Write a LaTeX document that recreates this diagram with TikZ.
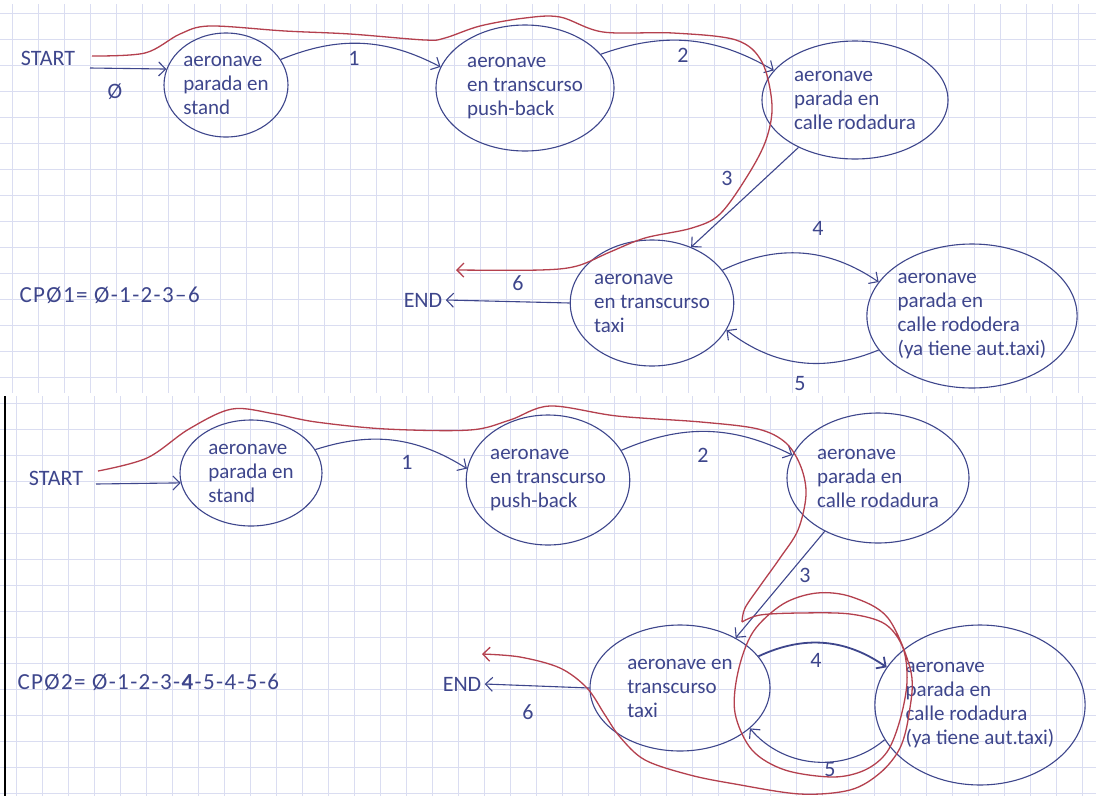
\documentclass[tikz,border=0pt]{standalone}
\usepackage{fontspec}
\setmainfont{Carlito}
\usetikzlibrary{positioning,shapes.geometric,arrows.meta}

\definecolor{ink}{RGB}{62,70,140}
\definecolor{redink}{RGB}{180,64,78}
\definecolor{gridblue}{RGB}{218,221,241}

\begin{document}
\begin{tikzpicture}[x=1pt,y=-1pt,
		state/.style={ellipse,draw=ink,line width=1.1pt,text=ink,align=left,inner sep=0pt,font=\fontsize{21}{24}\selectfont},
		trans/.style={draw=ink,line width=1.1pt,-{Straight Barb[length=7pt,width=14pt]}},
		numtag/.style={text=ink,font=\fontsize{22}{24}\selectfont},
		cptext/.style={text=ink,anchor=west,font=\fontsize{23}{24}\selectfont\addfontfeature{LetterSpace=6}},
		redroute/.style={draw=redink,line width=1.3pt},
		gridline/.style={draw=gridblue,line width=0.9pt}]

		% squared paper, two sheets
		\fill[white] (0,0) rectangle (1096,796);
		\useasboundingbox (0,0) rectangle (1096,796);
		\foreach \x in {12,38,...,1096} \draw[gridline] (\x,4) -- (\x,393);
		\foreach \y in {13,39,...,393} \draw[gridline] (0,\y) -- (1096,\y);
		\foreach \x in {16,42,...,1096} \draw[gridline] (\x,396) -- (\x,796);
		\foreach \y in {403,429,...,796} \draw[gridline] (0,\y) -- (1096,\y);
		\draw[black,line width=1.5pt] (5,396) -- (5,796);

		% CPO1
		\node[numtag]												(start1)	at (48,58)		{START};
		\node[state,minimum width=124pt,minimum height=104pt]		(s1)		at (226,85)		{aeronave\\parada en\\stand};
		\node[state,minimum width=178pt,minimum height=126pt]		(p1)		at (525,88)		{aeronave\\en transcurso\\push-back};
		\node[state,minimum width=186pt,minimum height=118pt]		(c1)		at (855,100)	{aeronave\\parada en\\calle rodadura};
		\node[state,minimum width=156pt,minimum height=126pt]		(t1)		at (652,303)	{aeronave\\en transcurso\\taxi};
		\node[state,minimum width=206pt,minimum height=144pt]		(a1)		at (972,316)	{aeronave\\parada en\\calle rododera\\(ya tiene aut.taxi)};
		\node[numtag]												(e1)		at (423,300)	{END};
		\node[cptext]												(cp1)		at (16,295)		{CPØ1= Ø-1-2-3–6};

		\coordinate (in1) at (90,68);
		\draw[trans] (in1) -- (s1.165);
		\draw[trans] (s1.25) to[bend left=25] (p1.166);
		\draw[trans] (p1.24) to[bend left=25] (c1.160);
		\draw[trans] (c1.220) -- (t1.55);
		\draw[trans] (t1.25) to[bend left=30] (a1.160);
		\draw[trans] (a1.200) to[bend left=30] (t1.340);
		\draw[trans] (t1.west) -- (e1.east);

		\node[numtag]	(n0)	at (115,92)		{Ø};
		\node[numtag]	(n1)	at (354,58)		{1};
		\node[numtag]	(n2)	at (683,55)		{2};
		\node[numtag]	(n3)	at (727,178)	{3};
		\node[numtag]	(n4)	at (818,228)	{4};
		\node[numtag]	(n5)	at (800,384)	{5};
		\node[numtag]	(n6)	at (518,283)	{6};

		\draw[redroute,-{Straight Barb[length=7pt,width=14pt]}] plot[smooth,tension=0.55] coordinates {(92,56) (145,53) (180,34) (210,26) (285,31) (350,34) (425,40) (445,38) (480,26) (525,18) (560,17) (603,32) (673,33) (736,40) (762,62) (772,105) (766,140) (748,175) (720,214) (692,228) (645,238) (610,252) (577,266) (540,270) (456,270)};

		% CPO2
		\node[numtag]												(start2)	at (56,478)		{START};
		\node[state,minimum width=142pt,minimum height=106pt]		(s2)		at (251,473)	{aeronave\\parada en\\stand};
		\node[state,minimum width=158pt,minimum height=130pt]		(p2)		at (548,480)	{aeronave\\en transcurso\\push-back};
		\node[state,minimum width=182pt,minimum height=130pt]		(c2)		at (878,478)	{aeronave\\parada en\\calle rodadura};
		\node[state,minimum width=180pt,minimum height=126pt]		(t2)		at (680,688)	{aeronave en\\transcurso\\taxi};
		\node[state,minimum width=210pt,minimum height=160pt]		(a2)		at (980,705)	{aeronave\\parada en\\calle rodadura\\(ya tiene aut.taxi)};
		\node[numtag]												(e2)		at (462,684)	{END};
		\node[cptext]												(cp2)		at (14,682)		{CPØ2= Ø-1-2-3-\textbf{4}-5-4-5-6};

		\coordinate (in2) at (96,484);
		\draw[trans] (in2) -- (s2.188);
		\draw[trans] (s2.20) to[bend left=25] (p2.172);
		\draw[trans] (p2.22) to[bend left=25] (c2.165);
		\draw[trans] (c2.225) -- (t2.42);
		\draw[trans,line width=1.8pt] (t2.22) to[bend left=30] (a2.158);
		\draw[trans] (a2.200) to[bend left=45] (t2.330);
		\draw[trans] (t2.west) -- (e2.east);

		\node[numtag]	(m1)	at (407,462)	{1};
		\node[numtag]	(m2)	at (703,455)	{2};
		\node[numtag]	(m3)	at (805,575)	{3};
		\node[numtag]	(m4)	at (816,660)	{4};
		\node[numtag]	(m5)	at (830,770)	{5};
		\node[numtag]	(m6)	at (528,712)	{6};

		\draw[redroute] plot[smooth,tension=0.55] coordinates {(98,471) (147,458) (189,429) (232,409) (275,414) (316,422) (386,429) (470,430) (510,420) (550,406) (617,416) (701,422) (758,429) (786,443) (801,467) (806,495) (798,530) (780,558) (760,586) (745,608) (742,622)};
		\draw[redroute,-{Straight Barb[length=7pt,width=14pt]}] plot[smooth,tension=0.55] coordinates {(742,622) (760,615) (800,613) (850,614) (885,624) (903,648) (907,682) (900,720) (887,752) (865,770) (833,777) (785,770) (752,750) (735,713) (738,672) (753,632) (783,604) (817,593) (852,597) (888,618) (911,672) (909,714) (900,748) (880,773) (850,790) (800,794) (735,784) (690,775) (645,760) (620,737) (605,715) (587,688) (560,668) (520,657) (482,654)};
	\end{tikzpicture}
\end{document}
